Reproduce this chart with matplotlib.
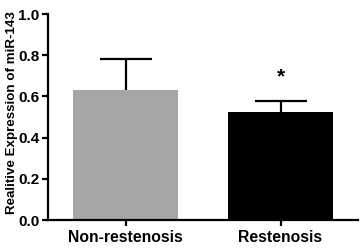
import matplotlib
matplotlib.use('Agg')
import matplotlib.pyplot as plt

groups = ['Non-restenosis', 'Restenosis']
means = [0.63, 0.525]
sd_upper = [0.15, 0.055]
bar_colors = ['#a6a6a6', '#000000']

plt.rcParams['font.family'] = ['Liberation Sans', 'DejaVu Sans']
plt.rcParams['font.weight'] = 'bold'

fig = plt.figure(figsize=(3.6, 2.48), dpi=100)
ax = fig.add_axes([48/360, 28/248, 310/360, 206/248])

x = range(len(groups))
ax.bar(x, means, width=0.675, color=bar_colors, zorder=2)
_, caps, _ = ax.errorbar(x, means, yerr=[[0, 0], sd_upper], fmt='none', ecolor='black',
                         elinewidth=1.6, capsize=18.5, capthick=1.6, zorder=1)
caps[0].set_visible(False)  # only the upper cap
ax.text(1, means[1] + sd_upper[1] + 0.115, '*', ha='center', va='center',
        fontsize=15, fontweight='bold')

ax.set_xlim(-0.5, 1.5)
ax.set_ylim(0, 1.0)
ax.set_yticks([0.0, 0.2, 0.4, 0.6, 0.8, 1.0])
ax.set_yticklabels(['0.0', '0.2', '0.4', '0.6', '0.8', '1.0'])
ax.set_xticks(list(x))
ax.set_xticklabels(groups, fontsize=11.3, fontweight='bold')
ax.tick_params(axis='y', labelsize=11, width=1.6, length=4, pad=2)
ax.tick_params(axis='x', width=1.6, length=4, pad=3)
ax.set_ylabel('Realitive Expression of miR-143', fontsize=9.6, fontweight='bold', labelpad=2)
ax.yaxis.set_label_coords(-0.098, 0.52)

ax.spines['top'].set_visible(False)
ax.spines['right'].set_visible(False)
ax.spines['left'].set_linewidth(1.6)
ax.spines['bottom'].set_linewidth(1.6)

fig.savefig('out.png', dpi=100)
